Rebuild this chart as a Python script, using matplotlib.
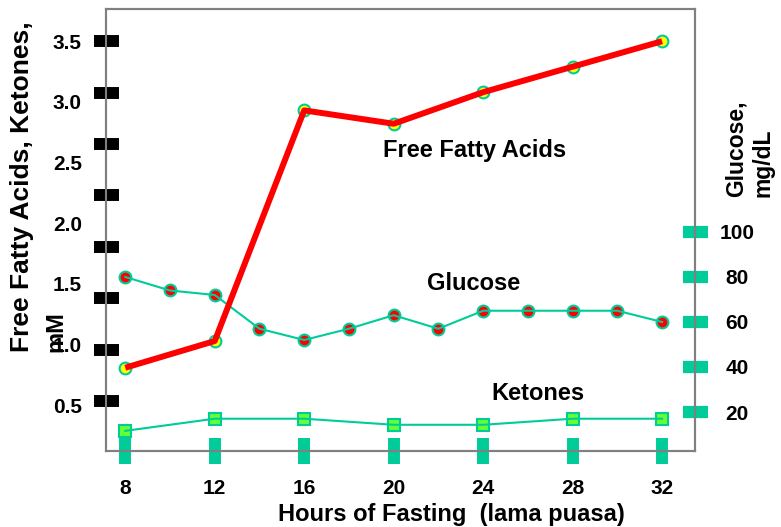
import numpy as np
import matplotlib
matplotlib.use("Agg")
import matplotlib.pyplot as plt

plt.rcParams['font.family'] = ['Liberation Sans', 'DejaVu Sans']
plt.rcParams['font.weight'] = 'bold'

# ---- data ----
hours = [8, 12, 16, 20, 24, 28, 32]
ffa_mM = [0.81, 1.03, 2.93, 2.82, 3.08, 3.29, 3.50]
ketones_mM = [0.29, 0.39, 0.39, 0.34, 0.34, 0.39, 0.39]
glucose_hours = [8, 10, 12, 14, 16, 18, 20, 22, 24, 26, 28, 30, 32]
glucose_mgdl = [80, 74, 72, 57, 52, 57, 63, 57, 65, 65, 65, 65, 60]
left_labels = ["0.5", "1.0", "1.5", "2.0", "2.5", "3.0", "3.5"]
left_label_vals = [0.5, 1.0, 1.5, 2.0, 2.5, 3.0, 3.5]
right_ticks = [20, 40, 60, 80, 100]
x_ticks = [8, 12, 16, 20, 24, 28, 32]

TEAL = '#00CC99'
W, H = 781, 527

fig = plt.figure(figsize=(W / 100, H / 100), dpi=100)
ax = fig.add_axes([106 / W, 1 - 451 / H, (695 - 106) / W, (451 - 9.4) / H])
ax2 = ax.twinx()

ax.set_xlim(7.14, 33.47)
ax.set_ylim(0.124, 3.762)
ax2.set_ylim(2.67, 198.9)

for a in (ax, ax2):
    for s in a.spines.values():
        s.set_color('#808080')
        s.set_linewidth(1.5)
ax.set_zorder(2)
ax2.set_zorder(1)
ax.patch.set_visible(False)

# glucose (right axis)
ax2.plot(glucose_hours, glucose_mgdl, linestyle='none', marker='o', ms=8.5,
         mfc='#FF0000', mec=TEAL, mew=1.5, zorder=2)
ax2.plot(glucose_hours, glucose_mgdl, color=TEAL, lw=1.5, zorder=3)

# ketones
ax.plot(hours, ketones_mM, linestyle='none', marker='s', ms=8, mfc='#66FF33',
        mec=TEAL, mew=1.5, zorder=2)
ax.plot(hours, ketones_mM, color=TEAL, lw=1.5, zorder=3)

# FFA
ax.plot(hours, ffa_mM, linestyle='none', marker='o', ms=8.5, mfc='#FFFF00',
        mec=TEAL, mew=1.5, zorder=4)
ax.plot(hours, ffa_mM, color='#FF0000', lw=4.3, zorder=5, solid_capstyle='butt')

# ticks: left black bars (unlabeled), labels on minor ticks
ax.yaxis.remove_overlapping_locs = False
ax.set_yticks(np.linspace(0.536, 3.5, 8))
ax.set_yticklabels([])
ax.tick_params(axis='y', which='major', direction='inout', length=18, width=8.6,
               color='black', left=True, right=False)
ax.set_yticks(left_label_vals, left_labels, minor=True)
ax.tick_params(axis='y', which='minor', length=0, pad=17.3, labelsize=15)

ax.set_xticks(x_ticks, [str(h) for h in x_ticks])
ax.tick_params(axis='x', direction='inout', length=18.4, width=8.6, color=TEAL,
               pad=11, labelsize=15)

ax2.set_yticks(right_ticks, [str(v) for v in right_ticks])
ax2.tick_params(axis='y', direction='inout', length=18, width=8.8, color=TEAL,
                pad=21.2, labelsize=15)
for lbl in ax2.get_yticklabels():
    lbl.set_horizontalalignment('center')

# axis titles
fig.text(22 / W, 1 - 352 / H, "Free Fatty Acids, Ketones,", rotation=90,
         ha='center', va='bottom', fontsize=19, fontweight='bold')
fig.text(55.5 / W, 1 - 352 / H, "mM", rotation=90,
         ha='center', va='bottom', fontsize=17, fontweight='bold')
fig.text(736 / W, 1 - 197 / H, "Glucose,", rotation=90,
         ha='center', va='bottom', fontsize=16.5, fontweight='bold')
fig.text(763 / W, 1 - 197 / H, "mg/dL", rotation=90,
         ha='center', va='bottom', fontsize=16.5, fontweight='bold')
fig.text(451 / W, 1 - 521 / H, "Hours of Fasting  (lama puasa)",
         ha='center', va='baseline', fontsize=17, fontweight='bold')

# series annotations
fig.text(475 / W, 1 - 156.7 / H, "Free Fatty Acids", ha='center', va='baseline',
         fontsize=17, fontweight='bold')
fig.text(473.5 / W, 1 - 289.5 / H, "Glucose", ha='center', va='baseline',
         fontsize=17, fontweight='bold')
fig.text(538 / W, 1 - 400 / H, "Ketones", ha='center', va='baseline',
         fontsize=17, fontweight='bold')

fig.savefig("out.png", dpi=100)
